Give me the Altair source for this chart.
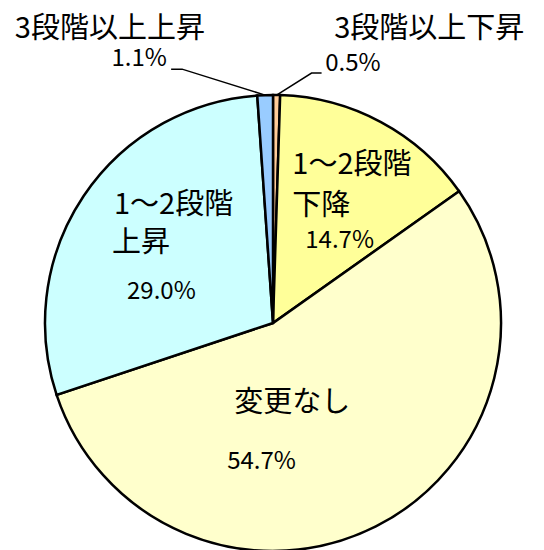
import math
import altair as alt
import pandas as pd

# ---- data ----
categories = ["3段階以上下昇", "1～2段階下降", "変更なし", "1～2段階上昇", "3段階以上上昇"]
values = [0.5, 14.7, 54.7, 29.0, 1.1]
colors = ["#FFCC99", "#FFFF99", "#FFFFCC", "#CCFFFF", "#99CCFF"]
line1 = ["3段階以上下昇", "1～2段階", "変更なし", "1～2段階", "3段階以上上昇"]
line2 = ["", "下降", "", "上昇", ""]

total = sum(values)
mids = []
acc = 0.0
for v in values:
    mids.append(acc + v / 2)
    acc += v

df = pd.DataFrame({
    "category": categories,
    "value": values,
    "order": list(range(len(values))),
    "mid": mids,
    "line1": line1,
    "line2": line2,
    "pct": [f"{v:.1f}%" for v in values],
})

# ---- layout ----
CX, CY, R = 273, 323, 228
FONT = "Noto Sans CJK JP"
JP_SIZE = 29
PCT_SIZE = 24

base = alt.Chart(df)

pie = base.mark_arc(outerRadius=R, stroke="black", strokeWidth=2.5).encode(
    theta=alt.Theta("value:Q", stack=True),
    order=alt.Order("order:Q"),
    color=alt.Color("category:N", scale=alt.Scale(domain=categories, range=colors), legend=None),
    x=alt.value(CX),
    y=alt.value(CY),
)


def label(idx, field, radius, dx, dy, align="left", size=JP_SIZE):
    return base.transform_filter(alt.datum.category == categories[idx]).mark_text(
        radius=radius, dx=dx, dy=dy, align=align, baseline="middle",
        font=FONT, fontSize=size, color="black",
    ).encode(
        theta=alt.Theta("mid:Q", scale=alt.Scale(domain=[0, total]), stack=None),
        text=alt.Text(f"{field}:N"),
        x=alt.value(CX),
        y=alt.value(CY),
    )


labels = [
    # 1~2段階下降
    label(1, "line1", 140, -47, -35),
    label(1, "line2", 140, -47, 6),
    label(1, "pct", 140, -34, 41, size=PCT_SIZE),
    # 1~2段階上昇
    label(3, "line1", 130, -51, -46),
    label(3, "line2", 130, -53, -8),
    label(3, "pct", 130, -38, 41, size=PCT_SIZE),
    # 変更なし
    label(2, "line1", 120, -93, -27),
    label(2, "pct", 120, -100, 32, size=PCT_SIZE),
    # 3段階以上上昇
    label(4, "line1", 265, -249, -29),
    label(4, "pct", 265, -97, 1, align="right", size=PCT_SIZE),
    # 3段階以上下昇
    label(0, "line1", 265, 57, -29),
    label(0, "pct", 265, 48, 6, size=PCT_SIZE),
]


# ---- leader lines (start at slice edge, computed from the data) ----
def polar(mid, r):
    a = 2 * math.pi * mid / total
    return CX + r * math.sin(a), CY - r * math.cos(a)


leader_offsets = {
    4: [(0, 0), (-83, -26), (-94, -26)],
    0: [(0, 0), (35, -22), (45, -22)],
}
rows = []
for idx, offs in leader_offsets.items():
    ex, ey = polar(mids[idx], R)
    for s, (ox, oy) in enumerate(offs):
        rows.append({"category": categories[idx], "seq": s, "px": ex + ox, "py": ey + oy})
lines_df = pd.DataFrame(rows)

leaders = alt.Chart(lines_df).mark_line(color="black", strokeWidth=1.5).encode(
    x=alt.X("px:Q", scale=None, axis=None),
    y=alt.Y("py:Q", scale=None, axis=None),
    detail="category:N",
    order="seq:Q",
)

chart = alt.layer(pie, leaders, *labels).resolve_scale(theta="independent").properties(
    width=544, height=550, padding=0, autosize="none", background="white"
).configure_view(stroke=None)

chart.save("out.html", embed_options={"renderer": "svg", "actions": False})
